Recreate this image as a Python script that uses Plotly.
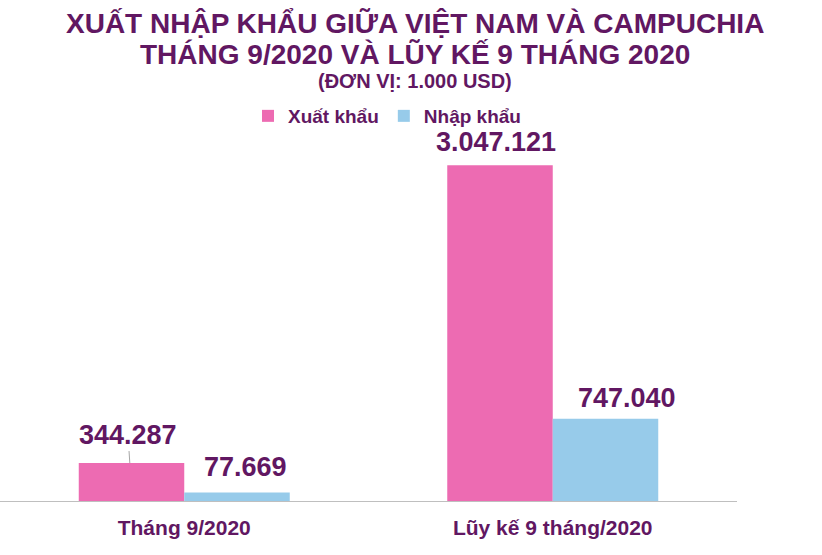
import plotly.graph_objects as go

categories = ["Tháng 9/2020", "Lũy kế 9 tháng/2020"]
xuat_khau = [344287, 3047121]
nhap_khau = [77669, 747040]
xuat_labels = ["344.287", "3.047.121"]
nhap_labels = ["77.669", "747.040"]

PINK = "#ED6BB2"
BLUE = "#97CBEA"
PURPLE = "#611762"
FONT = "Liberation Sans"

fig = go.Figure()
fig.add_trace(go.Bar(name="<b>Xuất khẩu</b>", x=categories, y=xuat_khau,
                     marker=dict(color=PINK, line=dict(width=0))))
fig.add_trace(go.Bar(name="<b>Nhập khẩu</b>", x=categories, y=nhap_khau,
                     marker=dict(color=BLUE, line=dict(width=0))))

PW = 737.0
PH = 361.0
BOT = 501.0

annotations = []
for txt, size, py in [
    ("XUẤT NHẬP KHẨU GIỮA VIỆT NAM VÀ CAMPUCHIA", 28, 23.5),
    ("THÁNG 9/2020 VÀ LŨY KẾ 9 THÁNG 2020", 28, 54),
    ("(ĐƠN VỊ: 1.000 USD)", 20, 81),
]:
    annotations.append(dict(text=f"<b>{txt}</b>", xref="paper", yref="paper",
                            x=415 / PW, y=(BOT - py) / PH, xanchor="center", yanchor="middle",
                            showarrow=False, font=dict(family=FONT, size=size, color=PURPLE)))

half = 52.75
label_specs = [
    (categories[0], xuat_khau[0], xuat_labels[0], -half, None),
    (categories[1], xuat_khau[1], xuat_labels[1], -half - 4, 23),
    (categories[0], nhap_khau[0], nhap_labels[0], half + 8, 25),
    (categories[1], nhap_khau[1], nhap_labels[1], half + 21, 21),
]
for cat, val, lab, xs, ys in label_specs:
    if ys is None:
        annotations.append(dict(text=f"<b>{lab}</b>", x=cat, y=val, xref="x", yref="y",
                                xshift=xs - 1.7, showarrow=True, arrowhead=0, arrowwidth=1,
                                arrowcolor="#A6A6A6", ax=-1.8, ay=-28.5, standoff=0,
                                font=dict(family=FONT, size=27, color=PURPLE)))
    else:
        annotations.append(dict(text=f"<b>{lab}</b>", x=cat, y=val, xref="x", yref="y",
                                xshift=xs, yshift=ys, showarrow=False,
                                xanchor="center", yanchor="middle",
                                font=dict(family=FONT, size=27, color=PURPLE)))

fig.update_layout(
    width=822, height=555,
    margin=dict(l=0, r=822 - 737, t=140, b=54, pad=0),
    paper_bgcolor="white", plot_bgcolor="white",
    barmode="group", bargap=0.4274, bargroupgap=0,
    showlegend=True,
    legend=dict(orientation="h", x=248 / PW, xanchor="left", y=(BOT - 116) / PH, yanchor="middle",
                font=dict(family=FONT, size=19, color=PURPLE), itemwidth=30,
                bgcolor="rgba(0,0,0,0)", traceorder="normal"),
    xaxis=dict(showline=True, linecolor="#BFBFBF", linewidth=1, ticks="", showgrid=False,
               zeroline=False, ticklabelstandoff=8,
               tickfont=dict(family=FONT, size=21, color=PURPLE),
               tickvals=categories, ticktext=[f"<b>{c}</b>" for c in categories]),
    yaxis=dict(visible=False, range=[0, 3276000], showgrid=False, zeroline=False),
    annotations=annotations,
)

fig.write_html("out.html", config={"displayModeBar": False},
               post_script="document.body.style.margin='0';")
